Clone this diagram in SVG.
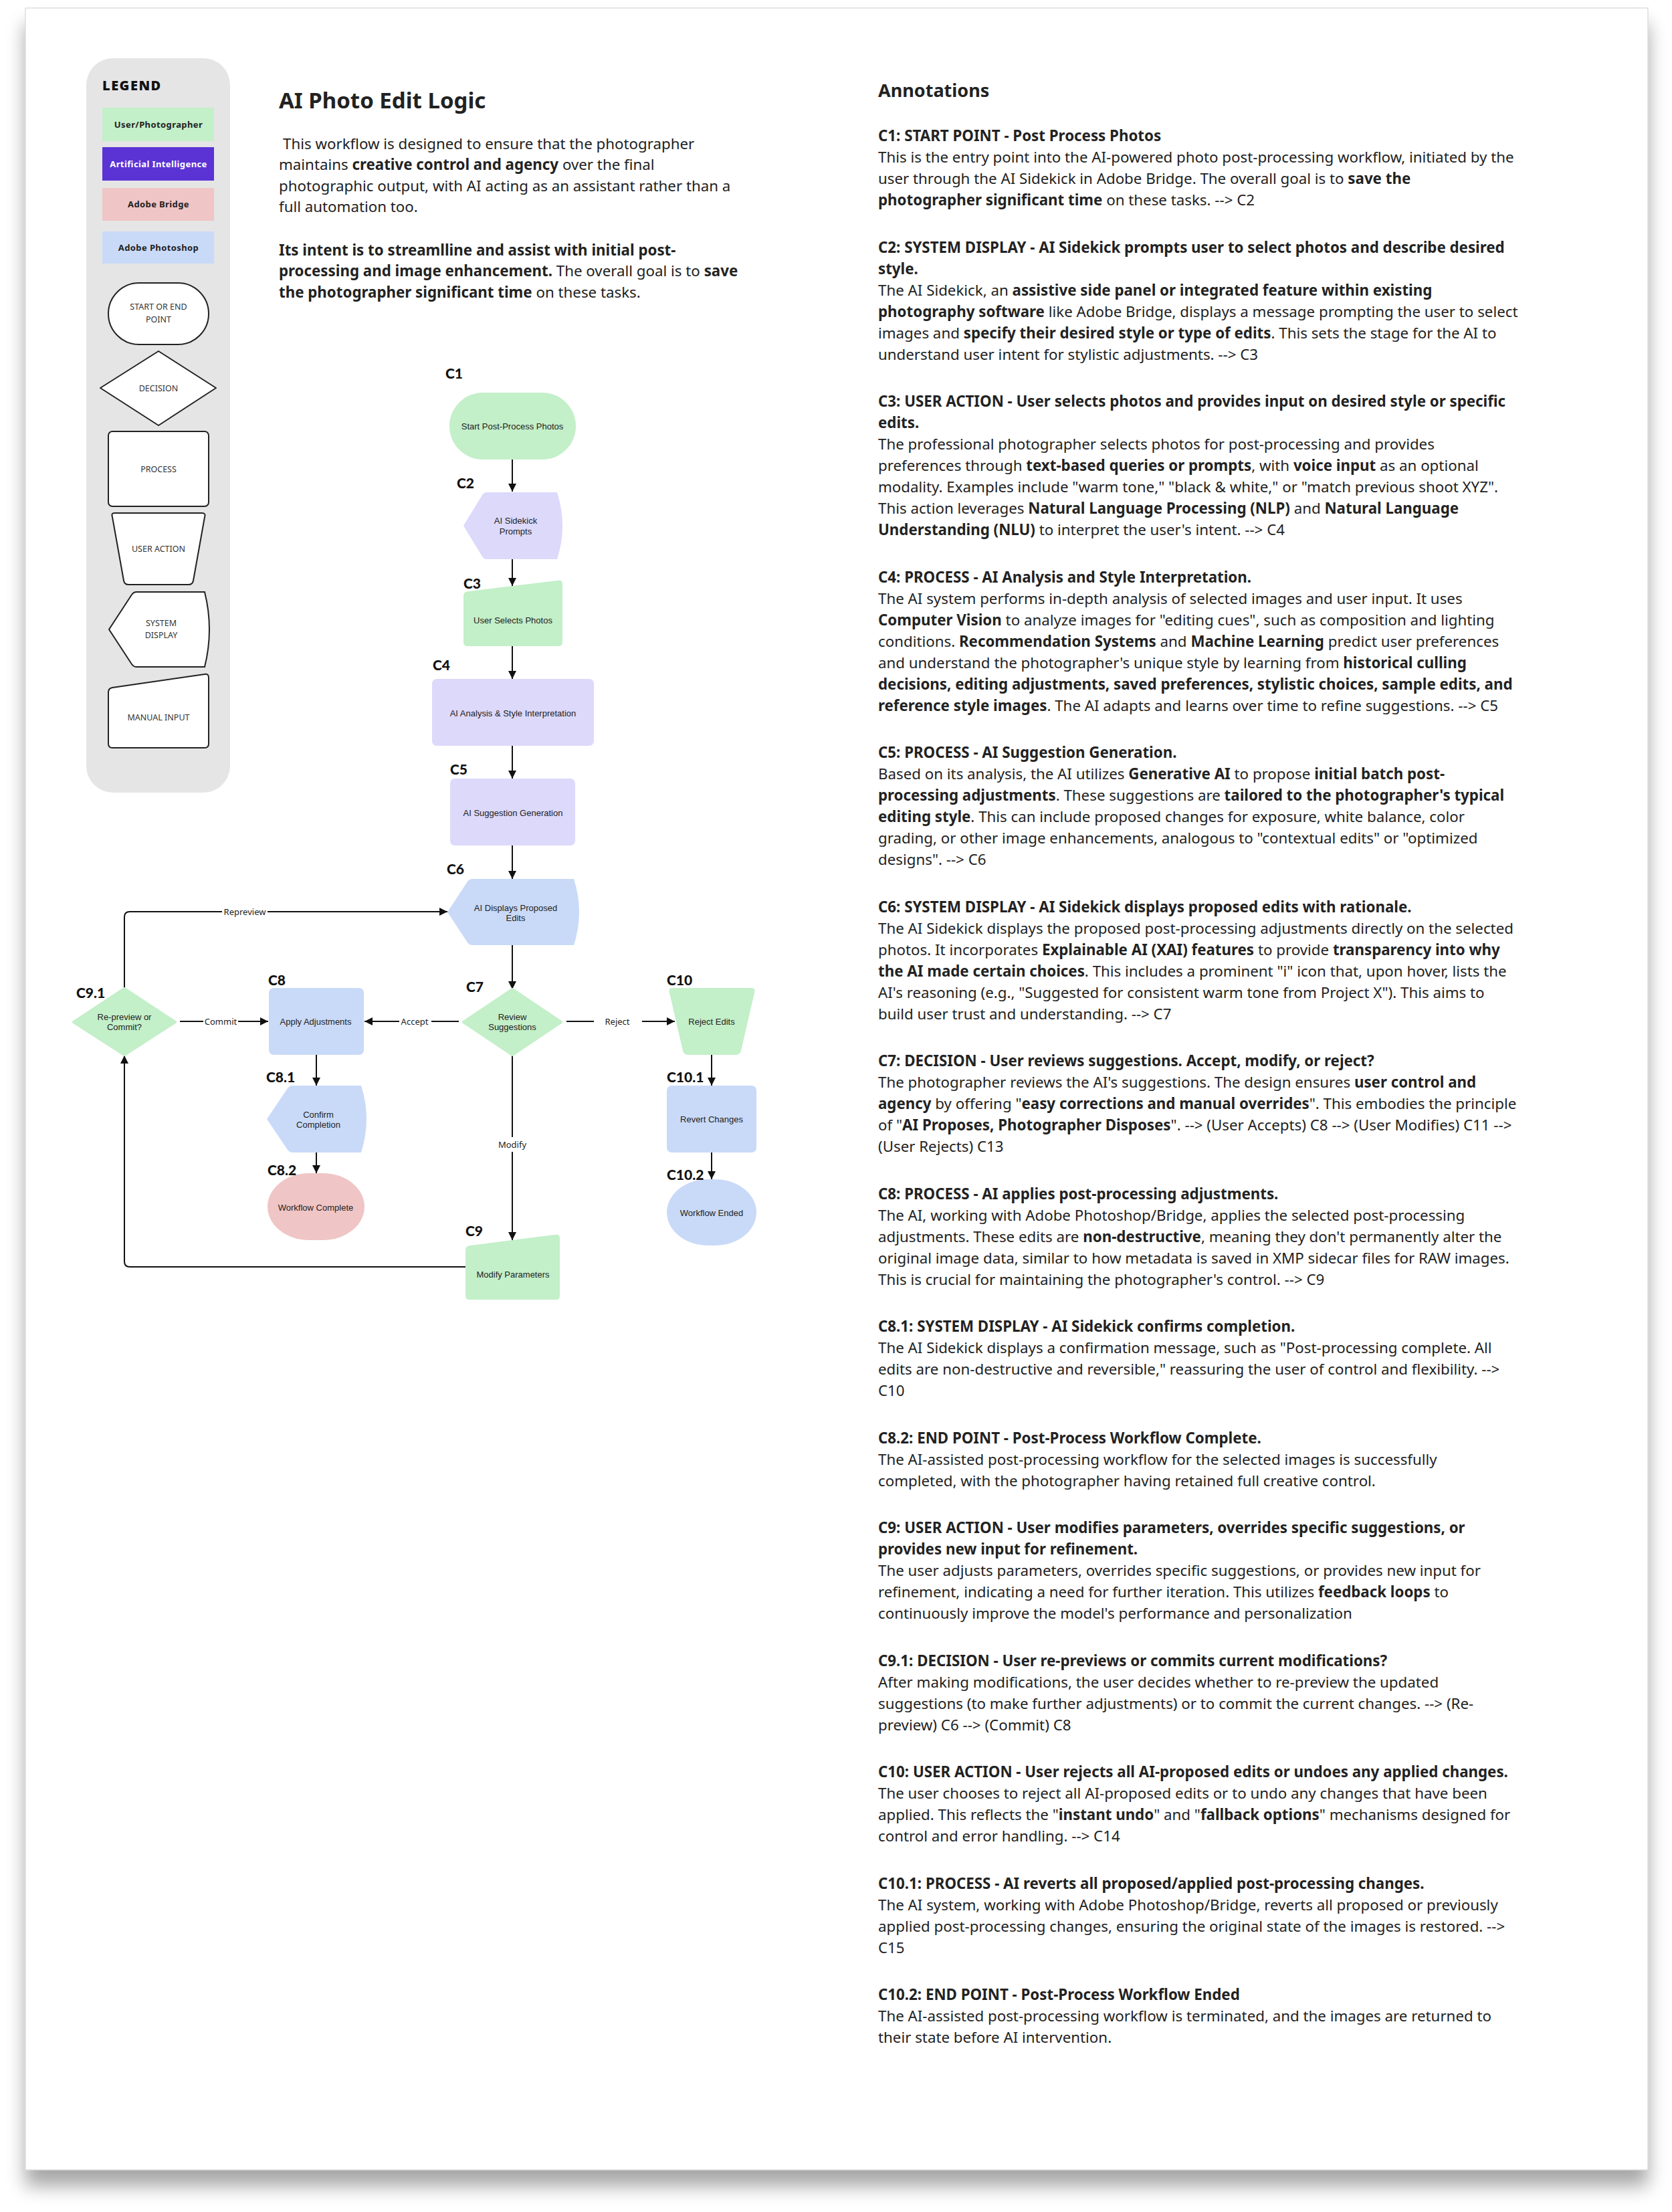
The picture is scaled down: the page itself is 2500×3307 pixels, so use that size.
<svg xmlns="http://www.w3.org/2000/svg" width="2500" height="3307" viewBox="0 0 2500 3307">
<defs>
<style>
.page{fill:#fff;stroke:#cfcfcf;stroke-width:1}
.n{font-family:"Liberation Sans",Arial,sans-serif;font-size:13px;fill:#222;text-anchor:middle}
.cl{font-family:Lato,"Noto Sans",sans-serif;font-weight:900;font-size:21px;fill:#111}
.el{font-family:"Noto Sans",sans-serif;font-size:13px;fill:#222;text-anchor:middle}
.elbg{fill:#fff}
.t{font-family:"Noto Sans",sans-serif;font-size:22.3px;fill:#222}
.h{font-family:"Noto Sans",sans-serif;font-size:22.3px;font-weight:bold;fill:#222}
.b{font-weight:bold}
.green{fill:#c3efc9}
.lav{fill:#dcd9fb}
.blue{fill:#c9daf8}
.pink{fill:#f0c5c5}
.lshape{fill:#fff;stroke:#222;stroke-width:2}
.ltxt{font-family:"Noto Sans",sans-serif;font-size:12.5px;fill:#333;text-anchor:middle}
.lbox{font-family:"Noto Sans",sans-serif;font-size:13px;font-weight:bold;fill:#222;text-anchor:middle;letter-spacing:0.4px}
.conn path{fill:none;stroke:#111;stroke-width:2}
</style>
<marker id="arr" viewBox="0 0 12 12" refX="12" refY="6" markerWidth="12" markerHeight="12" markerUnits="userSpaceOnUse" orient="auto"><path d="M0,0 L12,6 L0,12 Z" fill="#111"/></marker>
<filter id="sh" x="-3%" y="-3%" width="106%" height="106%"><feGaussianBlur in="SourceAlpha" stdDeviation="14"/><feOffset dy="24"/><feComponentTransfer><feFuncA type="linear" slope="0.35"/></feComponentTransfer><feMerge><feMergeNode/><feMergeNode in="SourceGraphic"/></feMerge></filter>
</defs>
<rect x="0" y="0" width="2500" height="3307" fill="#fff"/>
<rect class="page" x="38" y="12" width="2426" height="3232" filter="url(#sh)"/>

<!-- Legend -->
<g id="legend">
<rect x="129" y="87" width="215" height="1098" rx="40" fill="#e5e5e5"/>
<text x="153" y="135" font-family="'Noto Sans',sans-serif" font-weight="900" font-size="20" letter-spacing="1.5" fill="#111">LEGEND</text>
<rect x="153" y="161" width="167" height="50" class="green"/>
<text class="lbox" x="237" y="191">User/Photographer</text>
<rect x="153" y="220" width="167" height="50" fill="#5b33d4"/>
<text class="lbox" x="237" y="250" style="fill:#fff">Artificial Intelligence</text>
<rect x="153" y="281" width="167" height="49" class="pink"/>
<text class="lbox" x="237" y="310">Adobe Bridge</text>
<rect x="153" y="346" width="167" height="48" class="blue"/>
<text class="lbox" x="237" y="375">Adobe Photoshop</text>
<rect class="lshape" x="162" y="423" width="150" height="92" rx="46"/>
<text class="ltxt" x="237" y="463">START OR END</text>
<text class="ltxt" x="237" y="482">POINT</text>
<polygon class="lshape" points="237,525 323,580 237,636 150,580" stroke-linejoin="round"/>
<text class="ltxt" x="237" y="585">DECISION</text>
<rect class="lshape" x="162" y="645" width="150" height="112" rx="6"/>
<text class="ltxt" x="237" y="706">PROCESS</text>
<path class="lshape" d="M171,767 L302,767 Q308,767 306,773 L289,868 Q288,874 282,874 L192,874 Q186,874 185,868 L168,773 Q166,767 171,767 Z"/>
<text class="ltxt" x="237" y="825">USER ACTION</text>
<path class="lshape" d="M204,885 L306,885 Q320,941 306,997 L204,997 Q200,997 197,993 L163,941 L197,889 Q200,885 204,885 Z"/>
<text class="ltxt" x="241" y="936">SYSTEM</text>
<text class="ltxt" x="241" y="954">DISPLAY</text>
<path class="lshape" d="M162,1035 Q162,1029 168,1028 L306,1008 Q312,1007 312,1013 L312,1112 Q312,1118 306,1118 L168,1118 Q162,1118 162,1112 Z"/>
<text class="ltxt" x="237" y="1077">MANUAL INPUT</text>
</g>

<!-- Title and description -->
<g id="title">
<text x="417" y="162" font-family="'Noto Sans',sans-serif" font-weight="bold" font-size="33" fill="#222">AI Photo Edit Logic</text>
<text class="t"><tspan x="423" y="223">This workflow is designed to ensure that the photographer</tspan><tspan x="417" y="254">maintains <tspan class="b">creative control and agency</tspan> over the final</tspan><tspan x="417" y="286">photographic output, with AI acting as an assistant rather than a</tspan><tspan x="417" y="317">full automation too.</tspan><tspan x="417" y="382" class="b">Its intent is to streamlline and assist with initial post-</tspan><tspan x="417" y="413"><tspan class="b">processing and image enhancement.</tspan> The overall goal is to <tspan class="b">save</tspan></tspan><tspan x="417" y="445"><tspan class="b">the photographer significant time</tspan> on these tasks.</tspan></text>
</g>

<!-- Connectors -->
<g id="connectors" class="conn">
<path d="M766,687 V735" marker-end="url(#arr)"/>
<path d="M766,836 V876" marker-end="url(#arr)"/>
<path d="M766,966 V1015" marker-end="url(#arr)"/>
<path d="M766,1115 V1164" marker-end="url(#arr)"/>
<path d="M766,1264 V1314" marker-end="url(#arr)"/>
<path d="M766,1413 V1479" marker-end="url(#arr)"/>
<path d="M847,1527 H1009" marker-end="url(#arr)"/>
<path d="M686,1527 H545" marker-end="url(#arr)"/>
<path d="M766,1578 V1854" marker-end="url(#arr)"/>
<path d="M696,1894 H194 Q186,1894 186,1886 V1578" marker-end="url(#arr)"/>
<path d="M186,1477 V1371 Q186,1363 194,1363 H669" marker-end="url(#arr)"/>
<path d="M269,1527 H401" marker-end="url(#arr)"/>
<path d="M473,1577 V1623" marker-end="url(#arr)"/>
<path d="M473,1723 V1754" marker-end="url(#arr)"/>
<path d="M1064,1577 V1623" marker-end="url(#arr)"/>
<path d="M1064,1723 V1763" marker-end="url(#arr)"/>
<rect class="elbg" x="888" y="1518" width="72" height="18"/>
<text class="el" x="923" y="1532">Reject</text>
<rect class="elbg" x="597" y="1518" width="48" height="18"/>
<text class="el" x="620" y="1532">Accept</text>
<rect class="elbg" x="740" y="1700" width="52" height="22"/>
<text class="el" x="766" y="1716">Modify</text>
<rect class="elbg" x="332" y="1354" width="68" height="18"/>
<text class="el" x="366" y="1368">Repreview</text>
<rect class="elbg" x="304" y="1518" width="52" height="18"/>
<text class="el" x="330" y="1532">Commit</text>
</g>

<!-- Nodes -->
<g id="C1"><rect class="green" x="672" y="587" width="189" height="100" rx="50"/><text class="n" x="766" y="642">Start Post-Process Photos</text><text class="cl" x="666" y="566">C1</text></g>
<g id="C2"><path class="lav" d="M728,736 L833,736 Q849,786 833,836 L728,836 Q724,836 721,832 L693,786 L721,740 Q724,736 728,736 Z"/><text class="n" x="771" y="783">AI Sidekick</text><text class="n" x="771" y="799">Prompts</text><text class="cl" x="683" y="730">C2</text></g>
<g id="C3"><path class="green" d="M693,891 Q693,885 699,884.3 L835,867.7 Q841,867 841,873 L841,960 Q841,966 835,966 L699,966 Q693,966 693,960 Z"/><text class="n" x="767" y="932">User Selects Photos</text><text class="cl" x="693" y="880">C3</text></g>
<g id="C4"><rect class="lav" x="646" y="1015" width="242" height="100" rx="7"/><text class="n" x="767" y="1071">AI Analysis &amp; Style Interpretation</text><text class="cl" x="647" y="1002">C4</text></g>
<g id="C5"><rect class="lav" x="673" y="1164" width="187" height="100" rx="7"/><text class="n" x="767" y="1220">AI Suggestion Generation</text><text class="cl" x="673" y="1158">C5</text></g>
<g id="C6"><path class="blue" d="M706,1314 L858,1314 Q874,1363.5 858,1413 L706,1413 Q702,1413 699,1409 L669,1363.5 L699,1318 Q702,1314 706,1314 Z"/><text class="n" x="771" y="1362">AI Displays Proposed</text><text class="n" x="771" y="1377">Edits</text><text class="cl" x="668" y="1307">C6</text></g>
<g id="C7"><polygon class="green" points="766,1479 839,1528 766,1577 693,1528" stroke="#c3efc9" stroke-width="4" stroke-linejoin="round"/><text class="n" x="766" y="1525">Review</text><text class="n" x="766" y="1540">Suggestions</text><text class="cl" x="697" y="1483">C7</text></g>
<g id="C8"><rect class="blue" x="402" y="1477" width="142" height="100" rx="7"/><text class="n" x="472" y="1532">Apply Adjustments</text><text class="cl" x="401" y="1473">C8</text></g>
<g id="C8.1"><path class="blue" d="M437,1623 L540,1623 Q556,1673 540,1723 L437,1723 Q433,1723 430,1719 L399,1673 L430,1627 Q433,1623 437,1623 Z"/><text class="n" x="476" y="1671">Confirm</text><text class="n" x="476" y="1686">Completion</text><text class="cl" x="398" y="1618">C8.1</text></g>
<g id="C8.2"><rect class="pink" x="400" y="1754" width="145" height="100" rx="62" ry="50"/><text class="n" x="472" y="1810">Workflow Complete</text><text class="cl" x="400" y="1757">C8.2</text></g>
<g id="C9"><path class="green" d="M696,1869 Q696,1863 702,1862.2 L831,1845.8 Q837,1845 837,1851 L837,1937 Q837,1943 831,1943 L702,1943 Q696,1943 696,1937 Z"/><text class="n" x="767" y="1910">Modify Parameters</text><text class="cl" x="696" y="1848">C9</text></g>
<g id="C9.1"><polygon class="green" points="186,1478 262,1528 186,1577 110,1528" stroke="#c3efc9" stroke-width="4" stroke-linejoin="round"/><text class="n" x="186" y="1525">Re-preview or</text><text class="n" x="186" y="1540">Commit?</text><text class="cl" x="114" y="1492">C9.1</text></g>
<g id="C10"><path class="green" d="M1005,1477 L1123,1477 Q1130,1477 1128,1484 L1108,1571 Q1106,1577 1100,1577 L1029,1577 Q1023,1577 1021,1571 L1001,1484 Q999,1477 1005,1477 Z"/><text class="n" x="1064" y="1532">Reject Edits</text><text class="cl" x="997" y="1473">C10</text></g>
<g id="C10.1"><rect class="blue" x="997" y="1623" width="134" height="100" rx="7"/><text class="n" x="1064" y="1678">Revert Changes</text><text class="cl" x="997" y="1618">C10.1</text></g>
<g id="C10.2"><rect class="blue" x="997" y="1763" width="134" height="99" rx="62" ry="50"/><text class="n" x="1064" y="1818">Workflow Ended</text><text class="cl" x="997" y="1764">C10.2</text></g>

<!-- Annotations -->
<g id="annotations">
<text x="1313" y="145" font-family="'Noto Sans',sans-serif" font-weight="bold" font-size="27" fill="#222">Annotations</text>
<text class="h" x="1313" y="211">C1: START POINT - Post Process Photos</text>
<text class="t"><tspan x="1313" y="243">This is the entry point into the AI-powered photo post-processing workflow, initiated by the</tspan><tspan x="1313" y="275">user through the AI Sidekick in Adobe Bridge. The overall goal is to <tspan class="b">save the</tspan></tspan><tspan x="1313" y="307"><tspan class="b">photographer significant time</tspan> on these tasks. --&gt; C2</tspan></text>

<text class="h"><tspan x="1313" y="377.5">C2: SYSTEM DISPLAY - AI Sidekick prompts user to select photos and describe desired</tspan><tspan x="1313" y="409.5">style.</tspan></text>
<text class="t"><tspan x="1313" y="441.5">The AI Sidekick, an <tspan class="b">assistive side panel or integrated feature within existing</tspan></tspan><tspan x="1313" y="473.5"><tspan class="b">photography software</tspan> like Adobe Bridge, displays a message prompting the user to select</tspan><tspan x="1313" y="505.5">images and <tspan class="b">specify their desired style or type of edits</tspan>. This sets the stage for the AI to</tspan><tspan x="1313" y="537.5">understand user intent for stylistic adjustments. --&gt; C3</tspan></text>

<text class="h"><tspan x="1313" y="608">C3: USER ACTION - User selects photos and provides input on desired style or specific</tspan><tspan x="1313" y="640">edits.</tspan></text>
<text class="t"><tspan x="1313" y="672">The professional photographer selects photos for post-processing and provides</tspan><tspan x="1313" y="704">preferences through <tspan class="b">text-based queries or prompts</tspan>, with <tspan class="b">voice input</tspan> as an optional</tspan><tspan x="1313" y="736">modality. Examples include "warm tone," "black &amp; white," or "match previous shoot XYZ".</tspan><tspan x="1313" y="768">This action leverages <tspan class="b">Natural Language Processing (NLP)</tspan> and <tspan class="b">Natural Language</tspan></tspan><tspan x="1313" y="800"><tspan class="b">Understanding (NLU)</tspan> to interpret the user's intent. --&gt; C4</tspan></text>

<text class="h" x="1313" y="870.5">C4: PROCESS - AI Analysis and Style Interpretation.</text>
<text class="t"><tspan x="1313" y="902.5">The AI system performs in-depth analysis of selected images and user input. It uses</tspan><tspan x="1313" y="934.5"><tspan class="b">Computer Vision</tspan> to analyze images for "editing cues", such as composition and lighting</tspan><tspan x="1313" y="966.5">conditions. <tspan class="b">Recommendation Systems</tspan> and <tspan class="b">Machine Learning</tspan> predict user preferences</tspan><tspan x="1313" y="998.5">and understand the photographer's unique style by learning from <tspan class="b">historical culling</tspan></tspan><tspan x="1313" y="1030.5" class="b">decisions, editing adjustments, saved preferences, stylistic choices, sample edits, and</tspan><tspan x="1313" y="1062.5"><tspan class="b">reference style images</tspan>. The AI adapts and learns over time to refine suggestions. --&gt; C5</tspan></text>

<text class="h" x="1313" y="1133">C5: PROCESS - AI Suggestion Generation.</text>
<text class="t"><tspan x="1313" y="1165">Based on its analysis, the AI utilizes <tspan class="b">Generative AI</tspan> to propose <tspan class="b">initial batch post-</tspan></tspan><tspan x="1313" y="1197"><tspan class="b">processing adjustments</tspan>. These suggestions are <tspan class="b">tailored to the photographer's typical</tspan></tspan><tspan x="1313" y="1229"><tspan class="b">editing style</tspan>. This can include proposed changes for exposure, white balance, color</tspan><tspan x="1313" y="1261">grading, or other image enhancements, analogous to "contextual edits" or "optimized</tspan><tspan x="1313" y="1293">designs". --&gt; C6</tspan></text>

<text class="h" x="1313" y="1363.5">C6: SYSTEM DISPLAY - AI Sidekick displays proposed edits with rationale.</text>
<text class="t"><tspan x="1313" y="1395.5">The AI Sidekick displays the proposed post-processing adjustments directly on the selected</tspan><tspan x="1313" y="1427.5">photos. It incorporates <tspan class="b">Explainable AI (XAI) features</tspan> to provide <tspan class="b">transparency into why</tspan></tspan><tspan x="1313" y="1459.5"><tspan class="b">the AI made certain choices</tspan>. This includes a prominent "i" icon that, upon hover, lists the</tspan><tspan x="1313" y="1491.5">AI's reasoning (e.g., "Suggested for consistent warm tone from Project X"). This aims to</tspan><tspan x="1313" y="1523.5">build user trust and understanding. --&gt; C7</tspan></text>

<text class="h" x="1313" y="1594">C7: DECISION - User reviews suggestions. Accept, modify, or reject?</text>
<text class="t"><tspan x="1313" y="1626">The photographer reviews the AI's suggestions. The design ensures <tspan class="b">user control and</tspan></tspan><tspan x="1313" y="1658"><tspan class="b">agency</tspan> by offering "<tspan class="b">easy corrections and manual overrides</tspan>". This embodies the principle</tspan><tspan x="1313" y="1690">of "<tspan class="b">AI Proposes, Photographer Disposes</tspan>". --&gt; (User Accepts) C8 --&gt; (User Modifies) C11 --&gt;</tspan><tspan x="1313" y="1722">(User Rejects) C13</tspan></text>

<text class="h" x="1313" y="1792.5">C8: PROCESS - AI applies post-processing adjustments.</text>
<text class="t"><tspan x="1313" y="1824.5">The AI, working with Adobe Photoshop/Bridge, applies the selected post-processing</tspan><tspan x="1313" y="1856.5">adjustments. These edits are <tspan class="b">non-destructive</tspan>, meaning they don't permanently alter the</tspan><tspan x="1313" y="1888.5">original image data, similar to how metadata is saved in XMP sidecar files for RAW images.</tspan><tspan x="1313" y="1920.5">This is crucial for maintaining the photographer's control. --&gt; C9</tspan></text>

<text class="h" x="1313" y="1991">C8.1: SYSTEM DISPLAY - AI Sidekick confirms completion.</text>
<text class="t"><tspan x="1313" y="2023">The AI Sidekick displays a confirmation message, such as "Post-processing complete. All</tspan><tspan x="1313" y="2055">edits are non-destructive and reversible," reassuring the user of control and flexibility. --&gt;</tspan><tspan x="1313" y="2087">C10</tspan></text>

<text class="h" x="1313" y="2157.5">C8.2: END POINT - Post-Process Workflow Complete.</text>
<text class="t"><tspan x="1313" y="2189.5">The AI-assisted post-processing workflow for the selected images is successfully</tspan><tspan x="1313" y="2221.5">completed, with the photographer having retained full creative control.</tspan></text>

<text class="h"><tspan x="1313" y="2292">C9: USER ACTION - User modifies parameters, overrides specific suggestions, or</tspan><tspan x="1313" y="2324">provides new input for refinement.</tspan></text>
<text class="t"><tspan x="1313" y="2356">The user adjusts parameters, overrides specific suggestions, or provides new input for</tspan><tspan x="1313" y="2388">refinement, indicating a need for further iteration. This utilizes <tspan class="b">feedback loops</tspan> to</tspan><tspan x="1313" y="2420">continuously improve the model's performance and personalization</tspan></text>

<text class="h" x="1313" y="2490.5">C9.1: DECISION - User re-previews or commits current modifications?</text>
<text class="t"><tspan x="1313" y="2522.5">After making modifications, the user decides whether to re-preview the updated</tspan><tspan x="1313" y="2554.5">suggestions (to make further adjustments) or to commit the current changes. --&gt; (Re-</tspan><tspan x="1313" y="2586.5">preview) C6 --&gt; (Commit) C8</tspan></text>

<text class="h" x="1313" y="2657">C10: USER ACTION - User rejects all AI-proposed edits or undoes any applied changes.</text>
<text class="t"><tspan x="1313" y="2689">The user chooses to reject all AI-proposed edits or to undo any changes that have been</tspan><tspan x="1313" y="2721">applied. This reflects the "<tspan class="b">instant undo</tspan>" and "<tspan class="b">fallback options</tspan>" mechanisms designed for</tspan><tspan x="1313" y="2753">control and error handling. --&gt; C14</tspan></text>

<text class="h" x="1313" y="2823.5">C10.1: PROCESS - AI reverts all proposed/applied post-processing changes.</text>
<text class="t"><tspan x="1313" y="2855.5">The AI system, working with Adobe Photoshop/Bridge, reverts all proposed or previously</tspan><tspan x="1313" y="2887.5">applied post-processing changes, ensuring the original state of the images is restored. --&gt;</tspan><tspan x="1313" y="2919.5">C15</tspan></text>

<text class="h" x="1313" y="2990">C10.2: END POINT - Post-Process Workflow Ended</text>
<text class="t"><tspan x="1313" y="3022">The AI-assisted post-processing workflow is terminated, and the images are returned to</tspan><tspan x="1313" y="3054">their state before AI intervention.</tspan></text>
</g>
</svg>
